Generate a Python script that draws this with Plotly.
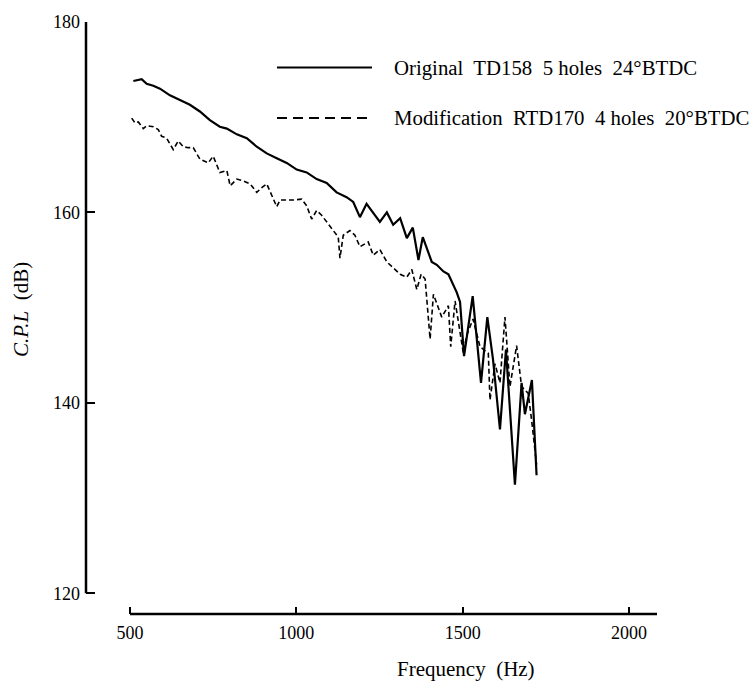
import plotly.graph_objects as go

# ---- data ----
orig_freq = [510, 535, 550, 570, 590, 620, 650, 680, 710, 740, 770, 791, 821, 851, 881,
             911, 941, 971, 1001, 1031, 1061, 1091, 1121, 1151, 1171, 1191, 1211, 1231,
             1251, 1272, 1291, 1312, 1332, 1350, 1367, 1380, 1407, 1422, 1442, 1457, 1482,
             1492, 1504, 1530, 1555, 1574, 1591, 1612, 1630, 1657, 1677, 1687, 1708, 1722]
orig_cpl = [173.8, 174.0, 173.5, 173.3, 173.0, 172.3, 171.8, 171.3, 170.6, 169.7, 169.0,
            168.8, 168.2, 167.8, 166.9, 166.2, 165.7, 165.2, 164.5, 164.2, 163.5, 163.1,
            162.1, 161.6, 161.1, 159.5, 160.9, 160.0, 159.0, 160.0, 158.7, 159.4, 157.3,
            158.4, 155.0, 157.4, 154.8, 154.5, 153.8, 153.5, 151.6, 150.6, 144.9, 151.2,
            142.1, 149.0, 144.6, 137.2, 145.6, 131.4, 142.1, 138.8, 142.4, 132.4]

mod_freq = [505, 515, 525, 540, 550, 570, 585, 595, 610, 630, 645, 660, 675, 690, 710,
            735, 750, 770, 791, 801, 821, 841, 861, 881, 896, 911, 926, 941, 951, 971,
            991, 1016, 1031, 1046, 1061, 1076, 1091, 1111, 1126, 1131, 1141, 1161, 1176,
            1191, 1216, 1231, 1251, 1272, 1291, 1312, 1332, 1347, 1362, 1375, 1387, 1402,
            1412, 1437, 1457, 1464, 1477, 1502, 1512, 1531, 1552, 1577, 1582, 1597, 1612,
            1627, 1642, 1662, 1677, 1697, 1708, 1722]
mod_cpl = [169.9, 169.4, 169.5, 168.8, 169.1, 169.0, 168.7, 168.0, 167.8, 166.6, 167.5,
           166.9, 166.8, 166.8, 165.6, 165.2, 165.9, 164.2, 164.4, 162.8, 163.5, 163.3,
           163.0, 162.1, 162.6, 163.0, 161.8, 160.6, 161.3, 161.3, 161.3, 161.4, 160.7,
           159.3, 160.2, 159.7, 159.0, 158.1, 157.4, 155.2, 157.6, 158.1, 157.6, 156.4,
           156.9, 155.5, 156.1, 154.8, 154.2, 153.5, 153.2, 154.0, 151.9, 153.5, 153.0,
           146.7, 151.4, 149.0, 150.2, 145.9, 150.7, 145.2, 147.1, 148.8, 145.9, 145.2,
           140.3, 144.1, 142.1, 149.0, 141.7, 146.0, 141.7, 141.0, 137.9, 133.5]

x_ticks = [500, 1000, 1500, 2000]
y_ticks = [120, 140, 160, 180]
legend_labels = ["Original  TD158  5 holes  24°BTDC",
                 "Modification  RTD170  4 holes  20°BTDC"]
x_title = "Frequency  (Hz)"
y_title = "<i>C.P.L</i>  (dB)"

FONT = "Liberation Serif, Times New Roman, serif"

fig = go.Figure()
fig.add_trace(go.Scatter(x=orig_freq, y=orig_cpl, mode="lines",
                         line=dict(color="black", width=2.2), showlegend=False))
fig.add_trace(go.Scatter(x=mod_freq, y=mod_cpl, mode="lines",
                         line=dict(color="black", width=1.6, dash="5px,3px"),
                         showlegend=False))

# axis lines (L-shaped, separated like in the original)
fig.add_shape(type="line", xref="paper", yref="y", x0=0, x1=0,
              y0=y_ticks[0], y1=y_ticks[-1], line=dict(color="black", width=2.5))
fig.add_shape(type="line", xref="x", yref="paper", x0=x_ticks[0], x1=2084,
              y0=0, y1=0, line=dict(color="black", width=2.5))

# legend drawn manually
leg_y = [0.923, 0.838]
fig.add_shape(type="line", xref="paper", yref="paper", x0=0.3345, x1=0.5009,
              y0=leg_y[0], y1=leg_y[0], line=dict(color="black", width=2))
fig.add_shape(type="line", xref="paper", yref="paper", x0=0.3345, x1=0.5009,
              y0=leg_y[1], y1=leg_y[1], line=dict(color="black", width=2, dash="10px,6px"))
for yy, txt in zip(leg_y, legend_labels):
    fig.add_annotation(x=0.536, y=yy, xref="paper", yref="paper", text=txt,
                       showarrow=False, xanchor="left", yanchor="middle",
                       font=dict(family=FONT, size=20.8, color="black"))

fig.add_annotation(x=-0.114, y=0.515, xref="paper", yref="paper", text=y_title,
                   showarrow=False, textangle=-90, xanchor="center", yanchor="middle",
                   font=dict(family=FONT, size=21, color="black"))
fig.add_annotation(x=0.665, y=-0.093, xref="paper", yref="paper", text=x_title,
                   showarrow=False, xanchor="center", yanchor="middle",
                   font=dict(family=FONT, size=21, color="black"))

fig.update_xaxes(range=[367.7, 2084], tickvals=x_ticks, ticktext=[str(v) for v in x_ticks],
                 ticks="inside", ticklen=7, tickwidth=2, tickcolor="black",
                 showline=False, showgrid=False, zeroline=False,
                 tickfont=dict(family=FONT, size=18, color="black"), ticklabelstandoff=6)
fig.update_yaxes(range=[117.82, 180], tickvals=y_ticks, ticktext=[str(v) for v in y_ticks],
                 ticks="inside", ticklen=9, tickwidth=2, tickcolor="black",
                 showline=False, showgrid=False, zeroline=False,
                 tickfont=dict(family=FONT, size=18, color="black"), ticklabelstandoff=5)

fig.update_layout(width=752, height=682, autosize=False,
                  margin=dict(l=86, r=95, t=14, b=68),
                  plot_bgcolor="white", paper_bgcolor="white", showlegend=False)

fig.write_html("out.html")
